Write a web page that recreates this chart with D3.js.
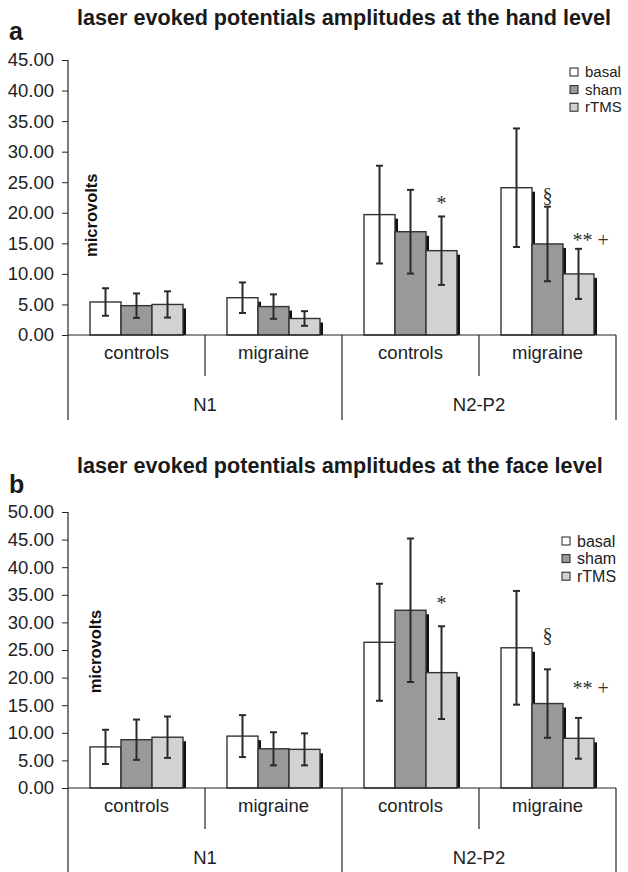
<!DOCTYPE html>
<html>
<head>
<meta charset="utf-8">
<script src="https://cdn.jsdelivr.net/npm/d3@7"></script>
<style>
  body { margin: 0; background: #fff; }
  svg { display: block; font-family: "Liberation Sans", Arial, sans-serif; }
</style>
</head>
<body>
<div class="chart"></div>
<script>
// Categories and series
var groups = ["N1", "N2-P2"];
var categories = ["controls", "migraine", "controls", "migraine"];
var series = ["basal", "sham", "rTMS"];

// Hand level (panel a): means and SD, one row per category, [basal, sham, rTMS]
var handMeans = [[5.4, 4.8, 5.0], [6.1, 4.65, 2.7], [19.7, 16.9, 13.8], [24.1, 14.9, 10.0]];
var handErr = [[2.25, 2.0, 2.15], [2.5, 2.0, 1.2], [8.0, 6.85, 5.6], [9.7, 6.1, 4.1]];
var handTicks = [0, 5, 10, 15, 20, 25, 30, 35, 40, 45];

// Face level (panel b)
var faceMeans = [[7.45, 8.75, 9.2], [9.4, 7.1, 7.0], [26.4, 32.2, 20.9], [25.4, 15.3, 9.0]];
var faceErr = [[3.1, 3.65, 3.75], [3.8, 3.0, 2.9], [10.6, 13.0, 8.4], [10.3, 6.2, 3.7]];
var faceTicks = [0, 5, 10, 15, 20, 25, 30, 35, 40, 45, 50];

// Significance marks: [category index, series index, label, value level]
var handNotes = [[2, 2, "*", 21.6], [3, 1, "§", 22.9], [3, 2, "** +", 15.5]];
var faceNotes = [[2, 2, "*", 33.5], [3, 1, "§", 27.8], [3, 2, "** +", 18.2]];

var fills = {basal: "#ffffff", sham: "#999999", rTMS: "#d2d2d2"};

var svg = d3.select(".chart").append("svg")
  .attr("width", 628)
  .attr("height", 872);

function drawPanel(p) {
  var g = svg.append("g");

  var y = d3.scaleLinear().domain([0, p.ymax]).range([p.base, p.top]);
  var x = d3.scaleBand().domain(d3.range(categories.length)).range([68, 616]).padding(0);
  var xs = d3.scaleBand().domain(series).range([0, x.bandwidth()]).paddingInner(0).paddingOuter(0.71);

  // title and panel letter
  g.append("text")
    .attr("x", 77).attr("y", p.titleY)
    .attr("font-size", 21.6).attr("font-weight", "bold").attr("fill", "#1a1a1a")
    .text(p.title);
  g.append("text")
    .attr("x", 9).attr("y", p.letterY)
    .attr("font-size", 25).attr("font-weight", "bold").attr("fill", "#1a1a1a")
    .text(p.letter);

  // y axis
  var axis = d3.axisLeft(y).tickValues(p.ticks).tickSize(6).tickPadding(8)
    .tickFormat(d3.format(".2f"));
  var ay = g.append("g").attr("transform", "translate(68,0)").call(axis);
  ay.select(".domain").remove();
  ay.selectAll("text").attr("font-size", 18.5).attr("fill", "#222")
    .attr("font-family", "Liberation Sans, Arial, sans-serif");
  ay.selectAll("line").attr("stroke", "#222");

  // y label
  g.append("text")
    .attr("transform", "translate(" + p.labelX + "," + y(p.labelAt) + ") rotate(-90)")
    .attr("text-anchor", "middle")
    .attr("font-size", 16.5).attr("font-weight", "bold").attr("fill", "#111")
    .text("microvolts");

  // bars
  var data = [];
  p.means.forEach(function(row, ci) {
    row.forEach(function(v, si) {
      data.push({ci: ci, s: series[si], v: v, e: p.errs[ci][si]});
    });
  });

  data.forEach(function(d) {
    var bx = x(d.ci) + xs(d.s);
    var w = xs.bandwidth();
    g.append("rect")
      .attr("x", bx + 3).attr("y", y(d.v) + 4)
      .attr("width", w).attr("height", Math.max(0, y(0) - y(d.v) - 4))
      .attr("fill", "#111");
    g.append("rect")
      .attr("x", bx).attr("y", y(d.v))
      .attr("width", w).attr("height", y(0) - y(d.v))
      .attr("fill", fills[d.s])
      .attr("stroke", "#333").attr("stroke-width", 1.4);
  });

  // error bars
  data.forEach(function(d) {
    var cx = x(d.ci) + xs(d.s) + xs.bandwidth() / 2;
    var eg = g.append("g").attr("stroke", "#2a2a2a").attr("stroke-width", 2);
    eg.append("line").attr("x1", cx).attr("x2", cx)
      .attr("y1", y(d.v + d.e)).attr("y2", y(d.v - d.e));
    [d.v + d.e, d.v - d.e].forEach(function(v) {
      eg.append("line").attr("x1", cx - 3.5).attr("x2", cx + 3.5)
        .attr("y1", y(v)).attr("y2", y(v));
    });
  });

  // significance marks
  p.notes.forEach(function(n) {
    var cx = x(n[0]) + xs(series[n[1]]) + xs.bandwidth() / 2;
    var multi = n[2].length > 1;
    g.append("text")
      .attr("x", multi ? cx - 6 : cx)
      .attr("y", y(n[3]))
      .attr("dy", "0.35em")
      .attr("text-anchor", multi ? "start" : "middle")
      .attr("font-family", "Liberation Serif, Times New Roman, serif")
      .attr("font-size", 20).attr("fill", "#333")
      .attr("xml:space", "preserve")
      .text(n[2]);
  });

  // category frame
  var lines = g.append("g").attr("stroke", "#222").attr("stroke-width", 1.2);
  lines.append("line").attr("x1", 68).attr("x2", 68).attr("y1", y(p.ymax)).attr("y2", p.bottom);
  lines.append("line").attr("x1", 68).attr("x2", 616).attr("y1", y(0)).attr("y2", y(0));
  lines.append("line").attr("x1", 616).attr("x2", 616).attr("y1", y(0)).attr("y2", p.bottom);
  [1, 3].forEach(function(i) {
    lines.append("line").attr("x1", x(i)).attr("x2", x(i)).attr("y1", y(0)).attr("y2", y(0) + 41);
  });
  lines.append("line").attr("x1", x(2)).attr("x2", x(2)).attr("y1", y(0)).attr("y2", p.bottom);

  categories.forEach(function(c, i) {
    g.append("text")
      .attr("x", x(i) + x.bandwidth() / 2).attr("y", y(0) + 24)
      .attr("text-anchor", "middle").attr("font-size", 18.5).attr("fill", "#222")
      .text(c);
  });
  groups.forEach(function(gr, i) {
    g.append("text")
      .attr("x", (x(i * 2) + x(i * 2 + 1) + x.bandwidth()) / 2).attr("y", y(0) + 76)
      .attr("text-anchor", "middle").attr("font-size", 18.5).attr("fill", "#222")
      .text(gr);
  });

  // legend
  series.forEach(function(s, i) {
    var ly = p.legendY + i * 17.6;
    g.append("rect")
      .attr("x", p.legendX).attr("y", ly - 4)
      .attr("width", 8).attr("height", 8)
      .attr("fill", fills[s]).attr("stroke", "#222").attr("stroke-width", 1);
    g.append("text")
      .attr("x", p.legendX + 15).attr("y", ly).attr("dy", "0.35em")
      .attr("font-size", p.legendFont).attr("fill", "#222")
      .text(s);
  });
}

drawPanel({
  title: "laser evoked potentials amplitudes at the hand level", letter: "a",
  titleY: 25, letterY: 40, ymax: 45, top: 60, base: 335, bottom: 420,
  ticks: handTicks, means: handMeans, errs: handErr, notes: handNotes,
  labelX: 96.5, labelAt: 19.6, legendX: 570, legendY: 72, legendFont: 15
});

drawPanel({
  title: "laser evoked potentials amplitudes at the face level", letter: "b",
  titleY: 473, letterY: 493, ymax: 50, top: 512, base: 788, bottom: 872,
  ticks: faceTicks, means: faceMeans, errs: faceErr, notes: faceNotes,
  labelX: 100.5, labelAt: 24.7, legendX: 562, legendY: 541, legendFont: 16
});
</script>
</body>
</html>
